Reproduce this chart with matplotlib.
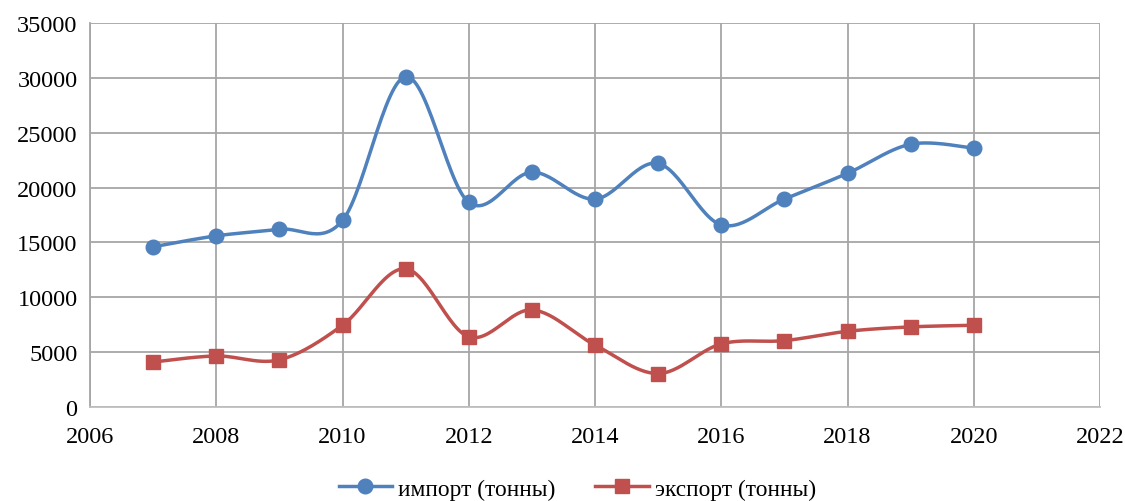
import numpy as np
import matplotlib
matplotlib.use('Agg')
import matplotlib.pyplot as plt

plt.rcParams['font.family'] = ['Liberation Serif', 'DejaVu Serif']

years = [2007, 2008, 2009, 2010, 2011, 2012, 2013, 2014, 2015, 2016, 2017, 2018, 2019, 2020]
imports = [14600, 15600, 16200, 17000, 30100, 18650, 21400, 18950, 22200, 16600, 18950, 21300, 23950, 23600]
exports = [4100, 4650, 4300, 7450, 12600, 6400, 8850, 5650, 3050, 5750, 6050, 6900, 7300, 7450]


def smooth(x, y, n=30):
    # сглаживание как в Excel (Catmull-Rom через кубические Безье)
    x = np.asarray(x, float)
    y = np.asarray(y, float)
    px = np.concatenate([[x[0]], x, [x[-1]]])
    py = np.concatenate([[y[0]], y, [y[-1]]])
    xs, ys = [], []
    t = np.linspace(0, 1, n)
    for i in range(1, len(px) - 2):
        p0 = np.array([px[i], py[i]])
        p3 = np.array([px[i + 1], py[i + 1]])
        c1 = p0 + (np.array([px[i + 1], py[i + 1]]) - np.array([px[i - 1], py[i - 1]])) / 6
        c2 = p3 - (np.array([px[i + 2], py[i + 2]]) - np.array([px[i], py[i]])) / 6
        b = ((1 - t) ** 3)[:, None] * p0 + (3 * (1 - t) ** 2 * t)[:, None] * c1 \
            + (3 * (1 - t) * t ** 2)[:, None] * c2 + (t ** 3)[:, None] * p3
        xs.extend(b[:, 0])
        ys.extend(b[:, 1])
    return xs, ys


fig = plt.figure(figsize=(11.25, 5.02), dpi=100)
ax = fig.add_axes([90 / 1125, 1 - 408 / 502, 1010 / 1125, 384 / 502])

blue = '#4f81bd'
red = '#c0504d'

sx, sy = smooth(years, imports)
ax.plot(sx, sy, color=blue, lw=2.5, zorder=3)
ax.plot(years, imports, 'o', color=blue, ms=10.5, zorder=4)
sx, sy = smooth(years, exports)
ax.plot(sx, sy, color=red, lw=2.5, zorder=3)
ax.plot(years, exports, 's', color=red, ms=9.5, zorder=4)

ax.plot([], [], color=blue, lw=2.5, marker='o', ms=10.5, label='импорт (тонны)')
ax.plot([], [], color=red, lw=2.5, marker='s', ms=9.5, label='экспорт (тонны)')

ax.set_xlim(2006, 2022)
ax.set_ylim(0, 35000)
ax.set_xticks(range(2006, 2023, 2))
ax.set_yticks(range(0, 35001, 5000))
ax.grid(True, color='#a6a6a6', lw=1.3)
ax.set_axisbelow(True)
for s in ['top', 'right']:
    ax.spines[s].set_visible(False)
ax.spines['left'].set_color('#a6a6a6')
ax.spines['left'].set_linewidth(1.3)
ax.spines['bottom'].set_color('#bfbfbf')
ax.spines['bottom'].set_linewidth(1.3)
ax.tick_params(length=0, labelsize=17.5, colors='black')
ax.tick_params(axis='x', pad=14)
ax.tick_params(axis='y', pad=9)

fig.legend(loc='center', bbox_to_anchor=(0.513, 0.024), ncol=2, frameon=False,
           fontsize=16.8, handlelength=2.3, columnspacing=1.7, handletextpad=0.25)

fig.savefig('out.png', dpi=100)
